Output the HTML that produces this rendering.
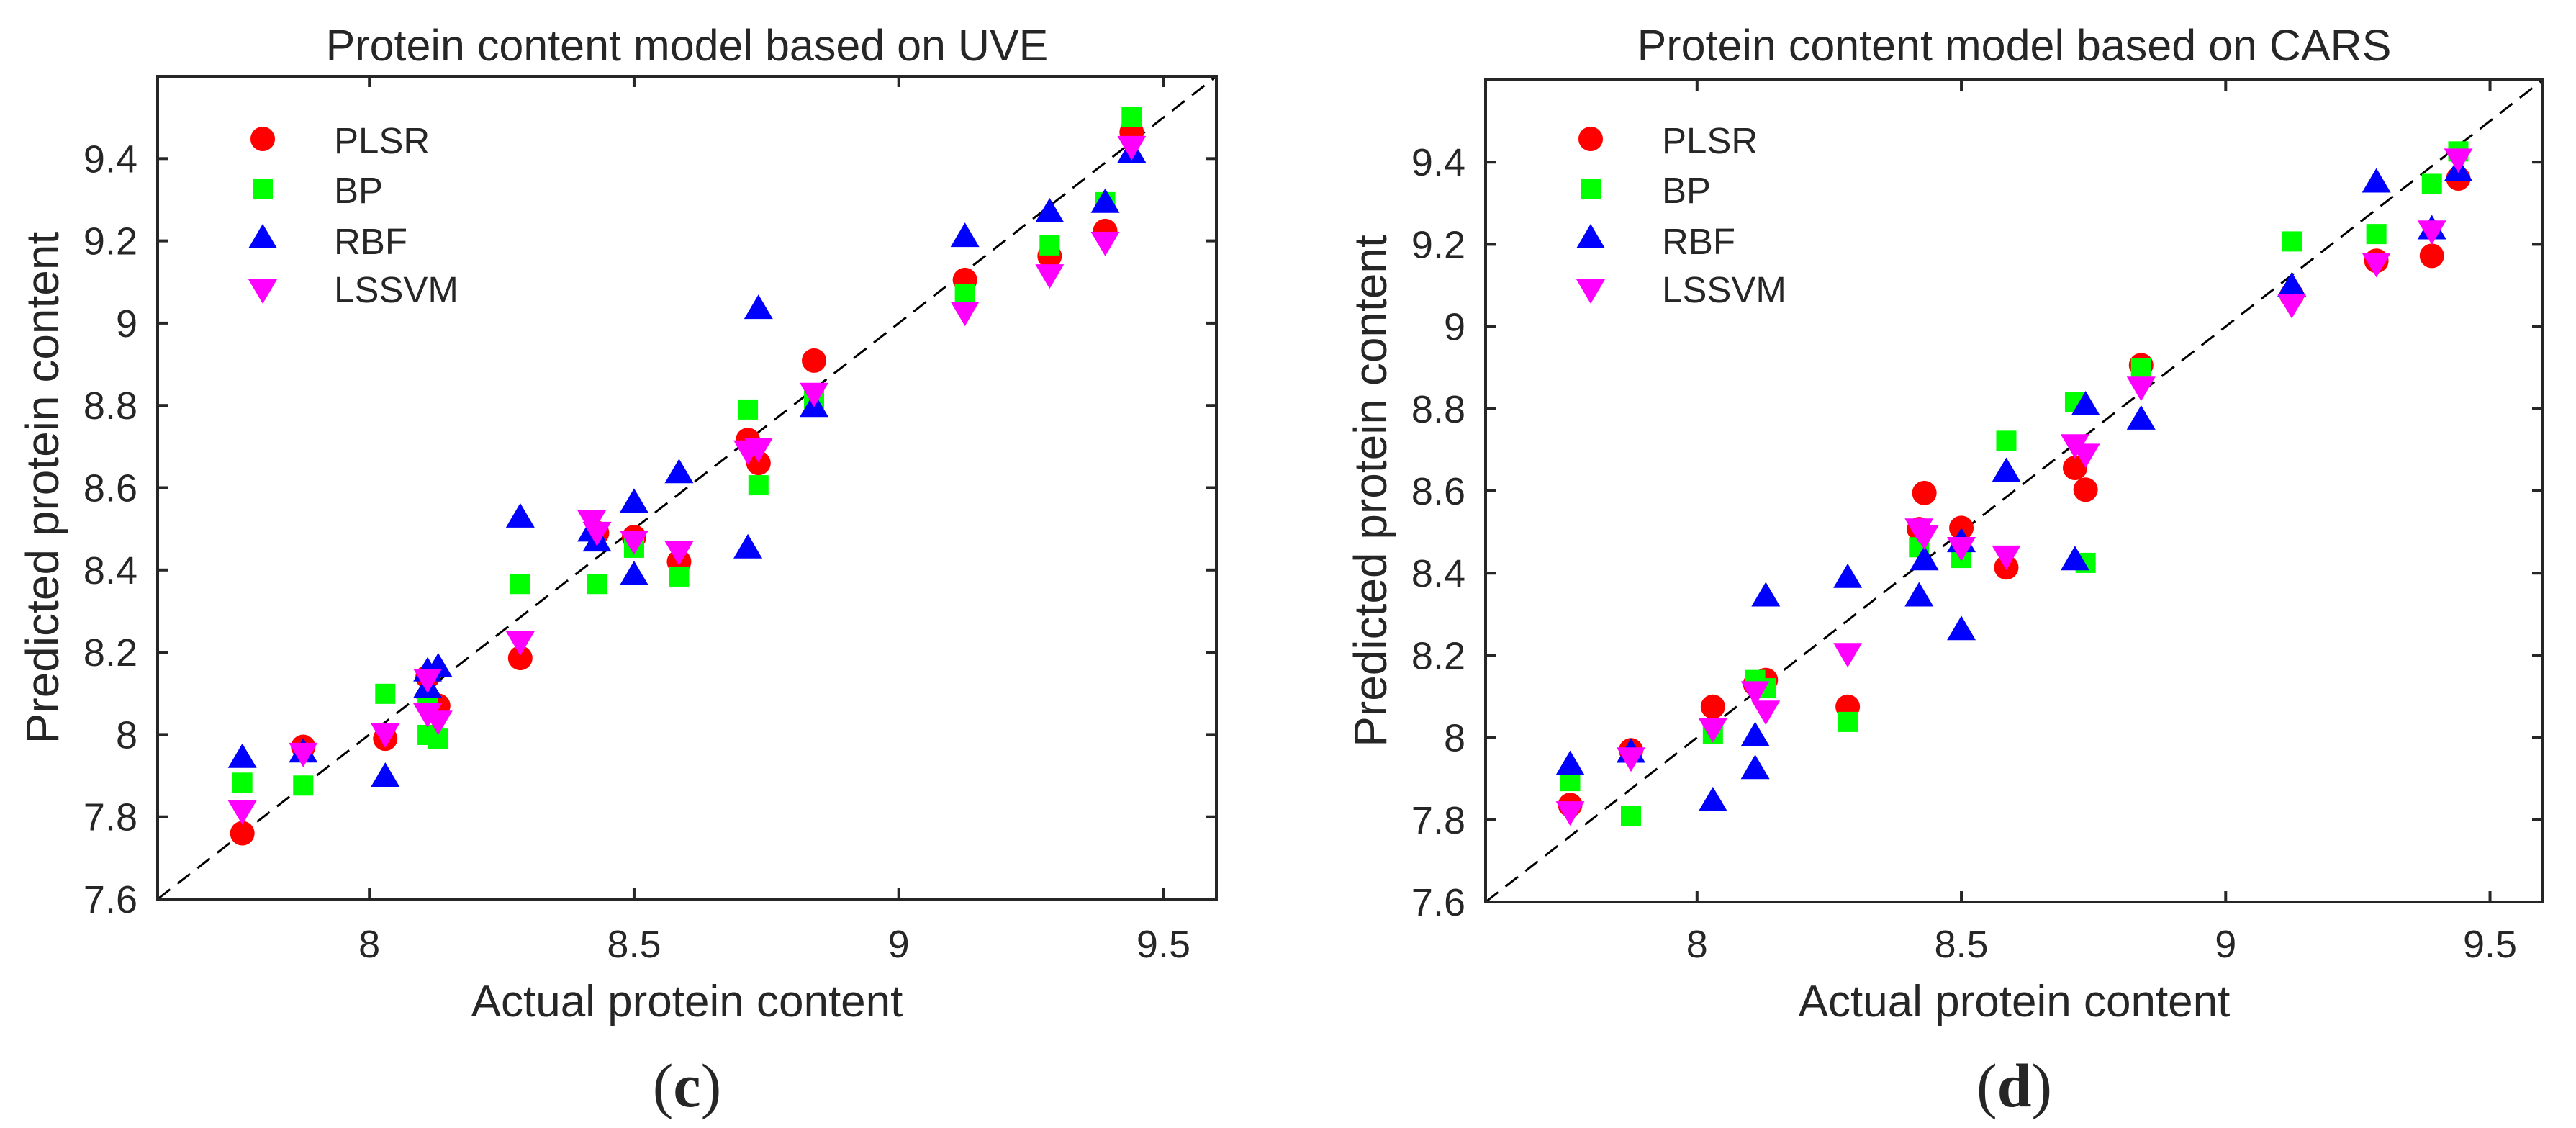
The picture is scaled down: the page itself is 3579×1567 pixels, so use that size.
<!DOCTYPE html>
<html><head><meta charset="utf-8"><style>
html,body{margin:0;padding:0;background:#fff}
svg{display:block}
text{font-family:"Liberation Sans",Arial,sans-serif;fill:#262626}
</style></head><body>
<svg id="fig" width="3579" height="1567" viewBox="0 0 3579 1567" xmlns="http://www.w3.org/2000/svg"></svg>
<script>
const xTicks=[8,8.5,9,9.5];
const xTickLabels=["8","8.5","9","9.5"];
const yTicks=[7.6,7.8,8,8.2,8.4,8.6,8.8,9,9.2,9.4];
const yTickLabels=["7.6","7.8","8","8.2","8.4","8.6","8.8","9","9.2","9.4"];
const seriesNames=["PLSR","BP","RBF","LSSVM"];

// UVE chart
const uvePlsrX=[7.76,7.875,8.03,8.11,8.13,8.285,8.43,8.50,8.585,8.715,8.735,8.84,9.125,9.285,9.39,9.44];
const uvePlsrY=[7.76,7.97,7.99,8.14,8.07,8.186,8.49,8.48,8.42,8.716,8.66,8.909,9.105,9.163,9.224,9.464];
const uveBpX=[7.76,7.875,8.03,8.11,8.13,8.11,8.285,8.43,8.50,8.585,8.715,8.735,8.84,9.125,9.285,9.39,9.44];
const uveBpY=[7.883,7.876,8.099,7.999,7.99,8.08,8.366,8.366,8.454,8.384,8.79,8.606,8.816,9.07,9.189,9.294,9.502];
const uveRbfX=[7.76,7.875,8.03,8.11,8.11,8.13,8.285,8.42,8.43,8.50,8.50,8.585,8.715,8.735,8.84,9.125,9.285,9.39,9.44];
const uveRbfY=[7.94,7.953,7.894,8.15,8.11,8.16,8.524,8.49,8.466,8.56,8.384,8.632,8.449,9.031,8.793,9.206,9.266,9.289,9.411];
const uveLsX=[7.76,7.875,8.03,8.11,8.11,8.13,8.285,8.42,8.43,8.50,8.585,8.715,8.735,8.84,9.125,9.285,9.39,9.44];
const uveLsY=[7.819,7.959,8.006,8.139,8.055,8.037,8.23,8.524,8.496,8.475,8.449,8.694,8.7,8.834,9.031,9.122,9.201,9.434];

// CARS chart
const carsPlsrX=[7.76,7.875,8.03,8.11,8.13,8.285,8.43,8.42,8.50,8.585,8.715,8.735,8.84,9.125,9.285,9.39,9.44];
const carsPlsrY=[7.836,7.969,8.075,8.13,8.14,8.075,8.595,8.507,8.51,8.414,8.656,8.603,8.906,9.076,9.16,9.172,9.36];
const carsBpX=[7.76,7.875,8.03,8.11,8.13,8.285,8.42,8.50,8.585,8.715,8.735,8.84,9.125,9.285,9.39,9.44];
const carsBpY=[7.894,7.81,8.008,8.14,8.12,8.038,8.463,8.437,8.722,8.817,8.425,8.898,9.207,9.225,9.347,9.426];
const carsRbfX=[7.76,7.875,8.03,8.11,8.11,8.13,8.285,8.42,8.43,8.50,8.50,8.585,8.715,8.735,8.84,9.125,9.285,9.39,9.44];
const carsRbfY=[7.93,7.96,7.842,8.0,7.92,8.34,8.385,8.34,8.428,8.258,8.472,8.643,8.428,8.805,8.77,9.094,9.347,9.233,9.374];
const carsLsX=[7.76,7.875,8.03,8.11,8.13,8.285,8.42,8.43,8.50,8.585,8.715,8.735,8.84,9.125,9.285,9.39,9.44];
const carsLsY=[7.824,7.955,8.026,8.116,8.069,8.209,8.512,8.495,8.467,8.446,8.717,8.694,8.857,9.058,9.158,9.237,9.412];

const NS="http://www.w3.org/2000/svg";
const svg=document.getElementById('fig');
function mk(tag,attrs,parent){const e=document.createElementNS(NS,tag);for(const k in attrs)e.setAttribute(k,attrs[k]);(parent||svg).appendChild(e);return e;}
const colors=["#ff0000","#00ff00","#0000ff","#ff00ff"];
function marker(g,kind,cx,cy){
  let e;
  if(kind===0){e=mk('ellipse',{cx:cx,cy:cy,rx:17,ry:17,fill:colors[0]},g);}
  else if(kind===1){e=mk('rect',{x:cx-14,y:cy-14,width:28,height:28,fill:colors[1]},g);}
  else if(kind===2){e=mk('polygon',{points:`${cx},${cy-22} ${cx+20},${cy+12} ${cx-20},${cy+12}`,fill:colors[2]},g);}
  else {e=mk('polygon',{points:`${cx},${cy+22} ${cx+20},${cy-12} ${cx-20},${cy-12}`,fill:colors[3]},g);}
  return e;
}
function chart(id,L,T,R,B,title,sub,data){
  const g=mk('g',{});
  
  
  const x=v=>L+(v-7.6)/2*(R-L);
  const y=v=>B-(v-7.6)/2*(B-T);
  const cxm=(L+R)/2;
  const t=mk('text',{x:cxm,y:84,'font-size':61,'text-anchor':'middle','fill':'#000'},g);t.textContent=title;
  
  xTicks.forEach((v,i)=>{
    mk('line',{x1:x(v),x2:x(v),y1:B,y2:B-15,stroke:'#262626','stroke-width':4},g);
    mk('line',{x1:x(v),x2:x(v),y1:T,y2:T+15,stroke:'#262626','stroke-width':4},g);
    const tl=mk('text',{x:x(v),y:1330,'font-size':54,'text-anchor':'middle'},g);tl.textContent=xTickLabels[i];
    
  });
  yTicks.forEach((v,i)=>{
    mk('line',{x1:L,x2:L+15,y1:y(v),y2:y(v),stroke:'#262626','stroke-width':4},g);
    mk('line',{x1:R,x2:R-15,y1:y(v),y2:y(v),stroke:'#262626','stroke-width':4},g);
    const tl=mk('text',{x:L-28,y:y(v)+19,'font-size':54,'text-anchor':'end'},g);tl.textContent=yTickLabels[i];
    
  });
  const dl=mk('line',{x1:x(7.6),y1:y(7.6),x2:x(9.6),y2:y(9.6),stroke:'#000','stroke-width':3,'stroke-dasharray':'22 13'},g);
  
  data.forEach((s,k)=>{
    const sg=mk('g',{},g);
    
    
    s[0].forEach((xv,i)=>{
      const m=marker(sg,k,x(xv),y(s[1][i]));
      
      
    });
  });
  const lg=mk('g',{},g);
  
  
  const ly=[193,262,333,400];
  seriesNames.forEach((n,k)=>{
    const m=marker(lg,k,L+146,ly[k]);
    
    const lt=mk('text',{x:L+245,y:ly[k]+20,'font-size':51,'fill':'#000'},lg);lt.textContent=n;
    
  });
  const fr=mk('rect',{x:L,y:T,width:R-L,height:B-T,fill:'none',stroke:'#262626','stroke-width':4},g);
  
  const xl=mk('text',{x:cxm,y:1412,'font-size':62,'text-anchor':'middle'},g);xl.textContent='Actual protein content';
  
  const yl=mk('text',{x:0,y:0,'font-size':64,'text-anchor':'middle',transform:`translate(${L-138},${(T+B)/2}) rotate(-90)`},g);yl.textContent='Predicted protein content';
  
  const sl=mk('text',{x:cxm,y:1537,'font-size':86,'text-anchor':'middle','fill':'#000',style:'font-family:"Liberation Serif",serif'},g);
  sl.innerHTML='(<tspan font-weight="bold">'+sub+'</tspan>)';
  
}
chart('chart-uve',219,106,1690,1249,'Protein content model based on UVE','c',
  [[uvePlsrX,uvePlsrY],[uveBpX,uveBpY],[uveRbfX,uveRbfY],[uveLsX,uveLsY]]);
chart('chart-cars',2064,111,3533,1253,'Protein content model based on CARS','d',
  [[carsPlsrX,carsPlsrY],[carsBpX,carsBpY],[carsRbfX,carsRbfY],[carsLsX,carsLsY]]);
</script>
</body></html>
